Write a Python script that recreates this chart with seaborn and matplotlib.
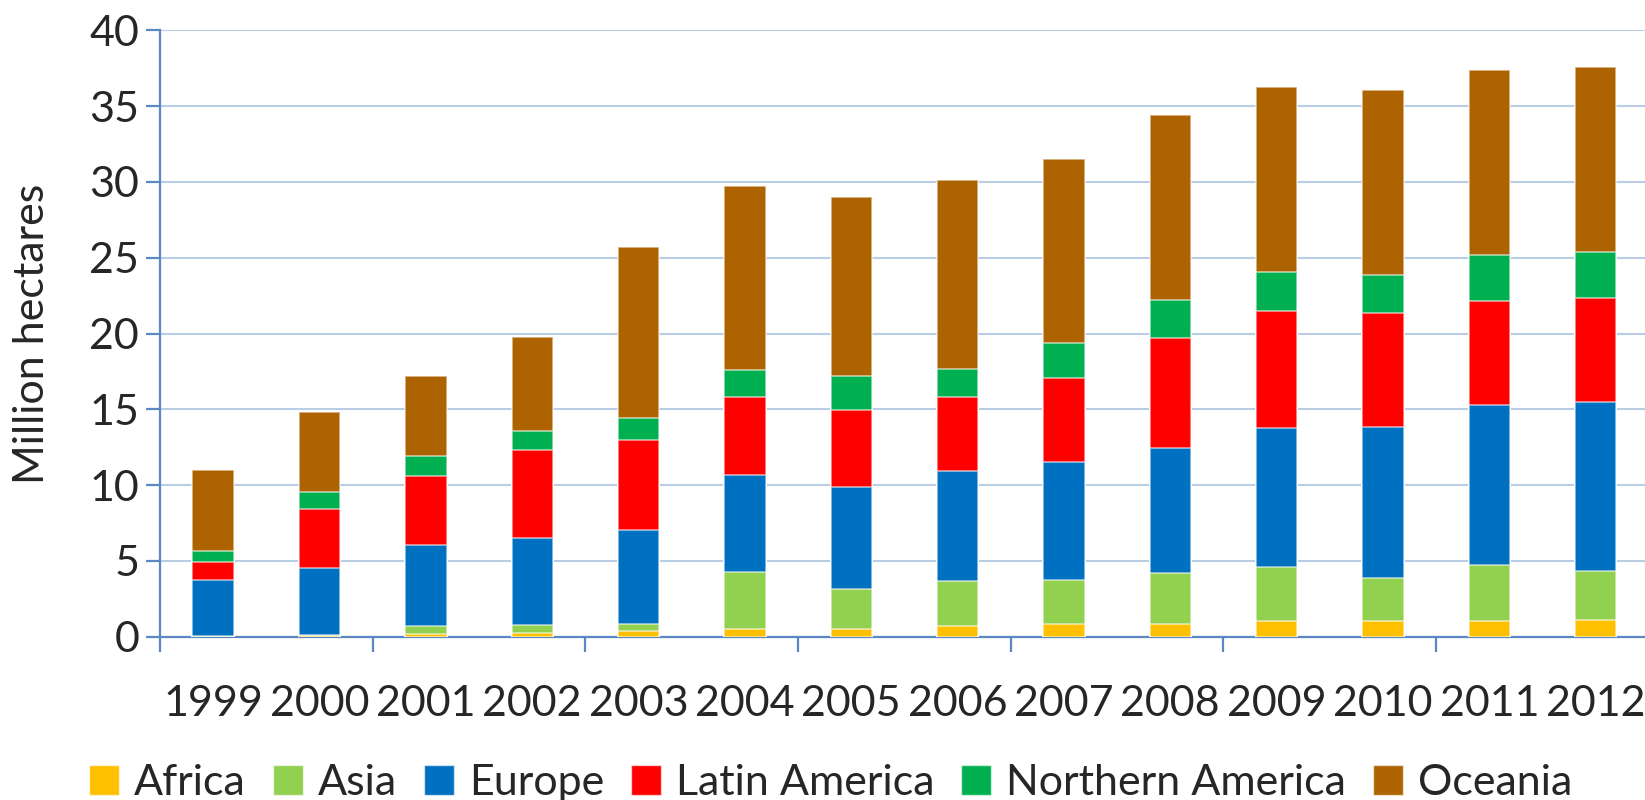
import seaborn as sns
import pandas as pd
import matplotlib.pyplot as plt
import numpy as np

# -------------------------------
# DATA (million hectares)
# -------------------------------
years = ["1999", "2000", "2001", "2002", "2003", "2004", "2005",
         "2006", "2007", "2008", "2009", "2010", "2011", "2012"]

africa = [0.01, 0.05, 0.18, 0.28, 0.35, 0.53, 0.50, 0.68, 0.86, 0.84, 1.01, 1.05, 1.05, 1.14]
asia = [0.02, 0.05, 0.50, 0.49, 0.49, 3.73, 2.66, 3.01, 2.90, 3.40, 3.60, 2.80, 3.70, 3.21]
europe = [3.70, 4.47, 5.38, 5.73, 6.21, 6.41, 6.74, 7.25, 7.74, 8.23, 9.17, 10.00, 10.55, 11.15]
latin_america = [1.22, 3.88, 4.54, 5.80, 5.95, 5.18, 5.05, 4.91, 5.60, 7.25, 7.68, 7.53, 6.85, 6.85]
northern_america = [0.73, 1.11, 1.30, 1.30, 1.40, 1.73, 2.25, 1.80, 2.28, 2.48, 2.62, 2.49, 3.04, 3.05]
oceania = [5.29, 5.24, 5.30, 6.20, 11.30, 12.17, 11.80, 12.45, 12.12, 12.20, 12.17, 12.18, 12.17, 12.20]

regions = ["Africa", "Asia", "Europe", "Latin America", "Northern America", "Oceania"]
colors = ["#FFC000", "#92D050", "#0070C0", "#FF0000", "#00B050", "#AD6300"]

df = pd.DataFrame({
    "year": years,
    "Africa": africa,
    "Asia": asia,
    "Europe": europe,
    "Latin America": latin_america,
    "Northern America": northern_america,
    "Oceania": oceania,
}).set_index("year")

# cumulative totals, drawn top layer first so lower layers overlay
cum = df[regions].cumsum(axis=1)

# -------------------------------
# PLOT
# -------------------------------
sns.set_style("white")
plt.rcParams["font.family"] = ["Lato", "DejaVu Sans"]
fs = 31

fig = plt.figure(figsize=(16.45, 8.0), dpi=100)
ax = fig.add_axes([0.0973, 0.204, 0.905, 0.758])

for region, color in reversed(list(zip(regions, colors))):
    sns.barplot(
        x=cum.index, y=cum[region], color=color, width=0.39,
        edgecolor=(1, 1, 1, 0.6), linewidth=1.2, saturation=1,
        ax=ax, zorder=3
    )

ax.set_xlim(-0.5, 13.5)
ax.set_ylim(0, 40)
ax.set_yticks(np.arange(0, 41, 5))
ax.grid(axis="y", color="#B9CDE5", lw=1.5, zorder=0)
ax.set_axisbelow(True)

spine_c = "#5B87C5"
for s in ["top", "right"]:
    ax.spines[s].set_visible(False)
ax.spines["left"].set_color(spine_c)
ax.spines["bottom"].set_color(spine_c)
ax.spines["left"].set_linewidth(1.6)
ax.spines["bottom"].set_linewidth(1.6)

ax.tick_params(axis="y", direction="out", length=10, width=1.6,
               color=spine_c, labelsize=fs, pad=5, left=True)
ax.tick_params(axis="x", which="major", length=0, labelsize=fs, pad=35)
ax.set_xticks(np.arange(-0.5, 14, 2), minor=True)
ax.tick_params(axis="x", which="minor", direction="out", length=11,
               width=1.6, color=spine_c, bottom=True)

ax.set_xlabel("")
ax.set_ylabel("Million hectares", fontsize=fs)
ax.yaxis.set_label_coords(-0.073, 0.5)

# -------------------------------
# LEGEND
# -------------------------------
handles = [plt.Rectangle((0, 0), 1, 1, facecolor=c, edgecolor=(1, 1, 1, 0.6))
           for c in colors]
fig.legend(
    handles, regions, loc="center", bbox_to_anchor=(0.505, 0.021),
    ncol=6, frameon=False, fontsize=fs, handlelength=0.7, handleheight=0.7,
    handletextpad=0.35, columnspacing=0.62
)

plt.savefig("out.png", dpi=100)
